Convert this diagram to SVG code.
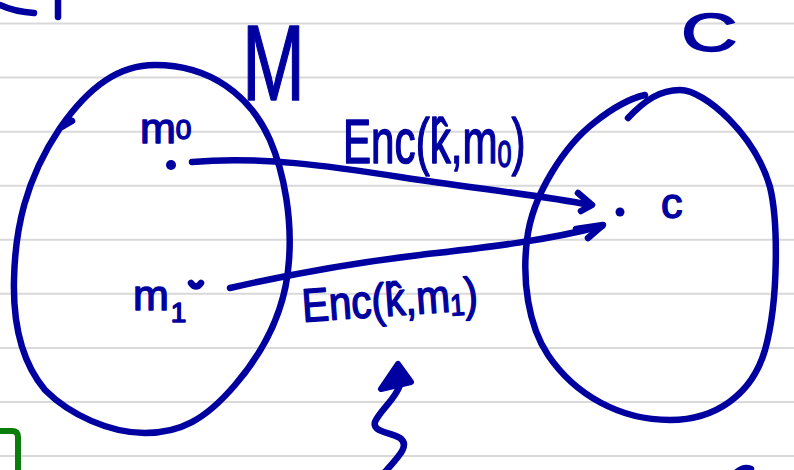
<svg xmlns="http://www.w3.org/2000/svg" width="794" height="470" viewBox="0 0 794 470">
<style>
.rule{stroke:#d9d9d9;stroke-width:2}
.ink{fill:none;stroke:#0000a0;stroke-width:6.5;stroke-linecap:round;stroke-linejoin:round}
.hw{fill:#0000a0;stroke:#0000a0;stroke-width:1.5;stroke-linejoin:round;font-family:"Liberation Sans",Arial,sans-serif}
.dot{fill:#0000a0}
</style>
<rect width="794" height="470" fill="#ffffff"/>
<g id="ruled-lines">
<line class="rule" x1="0" y1="23.5" x2="794" y2="23.5"/>
<line class="rule" x1="0" y1="77.6" x2="794" y2="77.6"/>
<line class="rule" x1="0" y1="131.7" x2="794" y2="131.7"/>
<line class="rule" x1="0" y1="185.7" x2="794" y2="185.7"/>
<line class="rule" x1="0" y1="239.8" x2="794" y2="239.8"/>
<line class="rule" x1="0" y1="293.8" x2="794" y2="293.8"/>
<line class="rule" x1="0" y1="347.9" x2="794" y2="347.9"/>
<line class="rule" x1="0" y1="402" x2="794" y2="402"/>
<line class="rule" x1="0" y1="456" x2="794" y2="456"/>
</g>
<g id="fragments">
<path class="ink" d="M0,5 Q15,12 34,13"/>
<path class="ink" d="M58,0 L58,17"/>
<path d="M0,431 L12,431 Q18,431 18,437 L18,472" fill="none" stroke="#0a7d0a" stroke-width="6"/>
<path class="ink" d="M737,472 Q744,466 751,469"/>
</g>
<g id="set-M">
<path class="ink" d="M72,121 L60,128 C90,85 120,65 155,65 C210,65 250,95 270,140 C285,175 292,220 289,260 C286,310 265,350 235,385 C205,420 180,433 145,433 C110,433 70,415 45,390 C20,360 13,320 14,280 C15,230 25,180 60,128"/>
<text class="hw" transform="translate(242,100) scale(0.7,1)" font-size="108" stroke-width="0">M</text>
</g>
<g id="m0">
<text class="hw" x="140" y="143" font-size="43">m<tspan font-size="28" dy="-4">0</tspan></text>
<circle class="dot" cx="171" cy="165" r="5"/>
</g>
<g id="m1">
<text class="hw" x="133" y="310" font-size="43">m<tspan font-size="28" dx="2" dy="12">1</tspan></text>
<path class="ink" d="M191,283 Q196,290 201,283"/>
</g>
<g id="set-C">
<path class="ink" d="M628,118 C645,100 660,90 680,90 C705,90 755,135 770,187 C778,220 779,300 765,350 C752,395 715,420 670,420 C620,420 575,395 548,355 C528,325 522,280 527,240 C532,195 565,145 595,122 C615,106 632,98 645,95"/>
<text class="hw" transform="translate(681,51) scale(1.45,1)" font-size="54">C</text>
</g>
<g id="c">
<circle class="dot" cx="620" cy="212" r="4.5"/>
<text class="hw" x="661" y="218" font-size="43">c</text>
</g>
<g id="connectors">
<path class="ink" d="M192,162 C260,156 330,166 400,177 C470,188 540,195 590,205"/>
<path class="ink" d="M578,193 L592,205 L581,211"/>
<text class="hw" transform="translate(343,163) scale(0.68,1)" font-size="62">Enc(k̂,m<tspan font-size="37" dy="4">0</tspan><tspan dy="-4">)</tspan></text>
<path class="ink" d="M230,288 C300,272 360,262 420,255 C480,248 540,242 602,226"/>
<path class="ink" d="M576,229 L603,225 L588,238"/>
<text class="hw" transform="translate(303,322) rotate(-4) scale(0.86,1)" font-size="47">Enc(k̂,m<tspan font-size="30" dy="4">1</tspan><tspan dy="-4">)</tspan></text>
</g>
<g id="squiggle-arrow">
<polygon points="398,364 381,389 411,382" fill="#0000a0" stroke="#0000a0" stroke-width="6" stroke-linejoin="round"/>
<path class="ink" d="M400,385 C395,400 380,410 375,422 C372,432 390,432 400,438 C410,445 400,455 385,472"/>
</g>
</svg>
